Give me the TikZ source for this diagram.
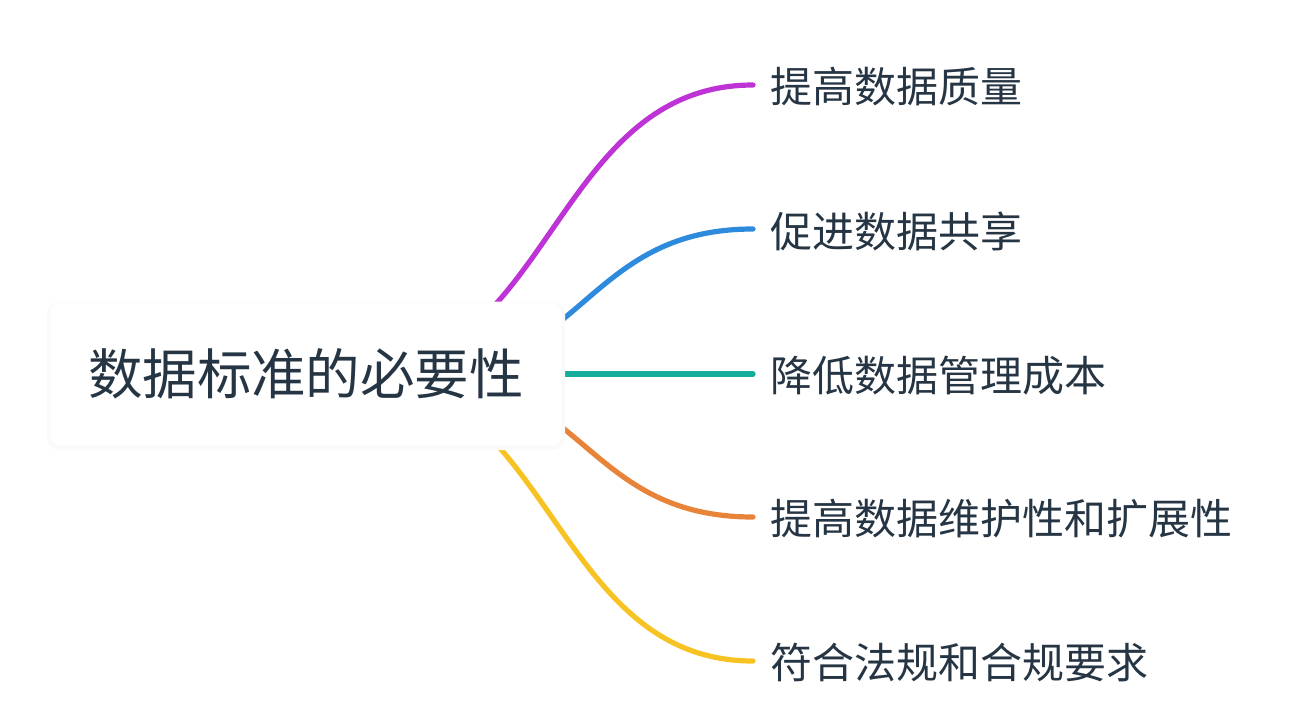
\documentclass[tikz,border=0pt]{standalone}
\usepackage{fontspec}
\setmainfont{Noto Sans CJK SC}
\usetikzlibrary{calc}
\definecolor{txt}{HTML}{263544}
\definecolor{cmag}{HTML}{BE33D5}
\definecolor{cblue}{HTML}{2D8ADC}
\definecolor{cteal}{HTML}{13AE9B}
\definecolor{corange}{HTML}{E8843A}
\definecolor{cyellow}{HTML}{F6C322}
\tikzset{
  branch/.style={line width=5.2pt, line cap=round},
  leaf/.style={anchor=west, inner sep=0pt, text=txt, font=\fontsize{42}{44}\selectfont},
  rootbox/.style={rounded corners=10pt, fill=white, draw=black!2, line width=0.8pt, minimum width=512pt, minimum height=144pt, text=txt, font=\fontsize{54.5}{58}\selectfont},
}
\begin{document}
\begin{tikzpicture}[x=1pt,y=-1pt]
\useasboundingbox (0,0) rectangle (1302,713);
% leaves
\node[leaf] (l1) at (770,87) {提高数据质量};
\node[leaf] (l2) at (770,231) {促进数据共享};
\node[leaf] (l3) at (770,376) {降低数据管理成本};
\node[leaf] (l4) at (770,519) {提高数据维护性和扩展性};
\node[leaf] (l5) at (770,663) {符合法规和合规要求};
% start / end points
\coordinate (s1) at (352,374);
\coordinate (s2) at (415,374);
\coordinate (s3) at (420,374);
\coordinate (s4) at (415,374);
\coordinate (s5) at (352,374);
\coordinate (e1) at (753,85);
\coordinate (e2) at (753,229);
\coordinate (e3) at (753,374);
\coordinate (e4) at (753,517);
\coordinate (e5) at (753,661);
\draw[branch, cmag] (s1) .. controls (552,374) and (552,85) .. (e1);
\draw[branch, cblue] (s2) .. controls (584,374) and (584,229) .. (e2);
\draw[branch, cteal] (s3) -- (e3);
\draw[branch, corange] (s4) .. controls (584,374) and (584,517) .. (e4);
\draw[branch, cyellow] (s5) .. controls (552,374) and (552,661) .. (e5);
% root
\fill[black!2, rounded corners=12pt] (47,302) rectangle (565,450);
\node[rootbox] (root) at (306,374) {数据标准的必要性};
\end{tikzpicture}
\end{document}
